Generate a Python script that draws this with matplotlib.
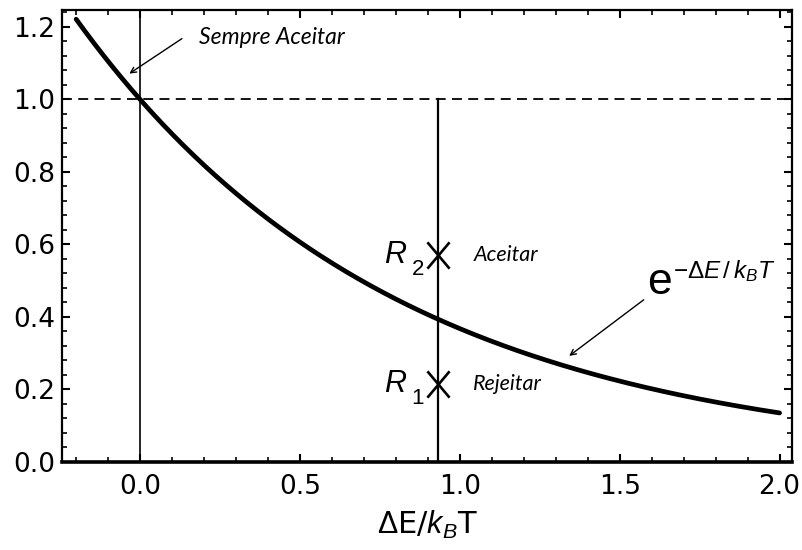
import numpy as np
import matplotlib
matplotlib.use("Agg")
import matplotlib.pyplot as plt
from matplotlib.path import Path
from matplotlib.ticker import MultipleLocator, AutoMinorLocator

plt.rcParams['font.family'] = ['DejaVu Sans']
plt.rcParams['mathtext.fontset'] = 'custom'
plt.rcParams['mathtext.rm'] = 'Liberation Sans'
plt.rcParams['mathtext.it'] = 'Liberation Sans:italic'

# Acceptance probability curve e^{-ΔE/k_B T}
x_min, x_max = -0.2, 2.0
x_trial = 0.932             # ΔE/k_B T of the trial move
r_values = [0.214, 0.572]   # random numbers R1, R2
r_subs = ["1", "2"]
r_notes = ["Rejeitar", "Aceitar"]

x = np.linspace(x_min, x_max, 400)
y = np.exp(-x)

# tall, thin-stroked cross marker
cross = Path([(-0.42, -0.5), (0.42, 0.5), (-0.42, 0.5), (0.42, -0.5)],
             [Path.MOVETO, Path.LINETO, Path.MOVETO, Path.LINETO])

fig = plt.figure(figsize=(8.02, 5.5), dpi=100)
ax = fig.add_axes([0.077, 0.16, 0.911, 0.822])

ax.plot(x, y, color='black', lw=3.4, solid_capstyle='round')
ax.axhline(1.0, color='black', lw=1.3, ls=(0, (5.5, 3.5)))
ax.axvline(0.0, color='black', lw=1.2)
ax.plot([x_trial, x_trial], [0, 1.0], color='black', lw=1.6)
ax.plot([x_trial] * 2, r_values, ls='none', marker=cross, ms=19,
        mew=1.9, mfc='none', color='black')

for rv, sub, note in zip(r_values, r_subs, r_notes):
    ax.text(x_trial - 0.1, rv, "R", ha='right', va='center', fontsize=22,
            style='italic', family='Liberation Sans')
    ax.text(x_trial - 0.083, rv - 0.04, sub, ha='left', va='center', fontsize=16,
            family='Liberation Sans')
    ax.text(x_trial + 0.11, rv, note, ha='left', va='center', fontsize=15.5,
            style='italic', family='Lato')

# "Sempre Aceitar" label with its arrow to the curve
ax.text(0.185, 1.170, "Sempre Aceitar", fontsize=16.5, style='italic', family='Lato',
        va='center', ha='left')
ax.annotate("", xy=(-0.041, 1.067), xytext=(0.138, 1.172),
            arrowprops=dict(arrowstyle='->', color='black', lw=1.0))

# curve label e^{-ΔE/k_B T} with its arrow
ax.annotate("", xy=(1.335, 0.288), xytext=(1.582, 0.452),
            arrowprops=dict(arrowstyle='->', color='black', lw=1.0))
ax.text(1.585, 0.494, "e", fontsize=32, ha='left', va='center',
        family='Liberation Sans')
ax.text(1.668, 0.527, r"$-\Delta E\,/\,k_{B}T$", fontsize=17.5, ha='left', va='center')

ax.set_xlim(-0.245, 2.04)
ax.set_ylim(0.0, 1.247)
ax.xaxis.set_major_locator(MultipleLocator(0.5))
ax.yaxis.set_major_locator(MultipleLocator(0.2))
ax.xaxis.set_minor_locator(AutoMinorLocator(5))
ax.yaxis.set_minor_locator(AutoMinorLocator(5))
ax.tick_params(which='both', direction='in', top=True, right=True, labelsize=19)
ax.tick_params(which='major', length=6, width=1.5)
ax.tick_params(which='minor', length=3.5, width=1.2)
ax.tick_params(axis='x', pad=9)
ax.tick_params(axis='y', pad=5)
for s in ax.spines.values():
    s.set_linewidth(1.6)
ax.spines['bottom'].set_linewidth(2.6)

ax.set_xlabel(r"$\Delta$E/$k_B$T", fontsize=22, labelpad=6)

fig.savefig("out.png", dpi=100)
